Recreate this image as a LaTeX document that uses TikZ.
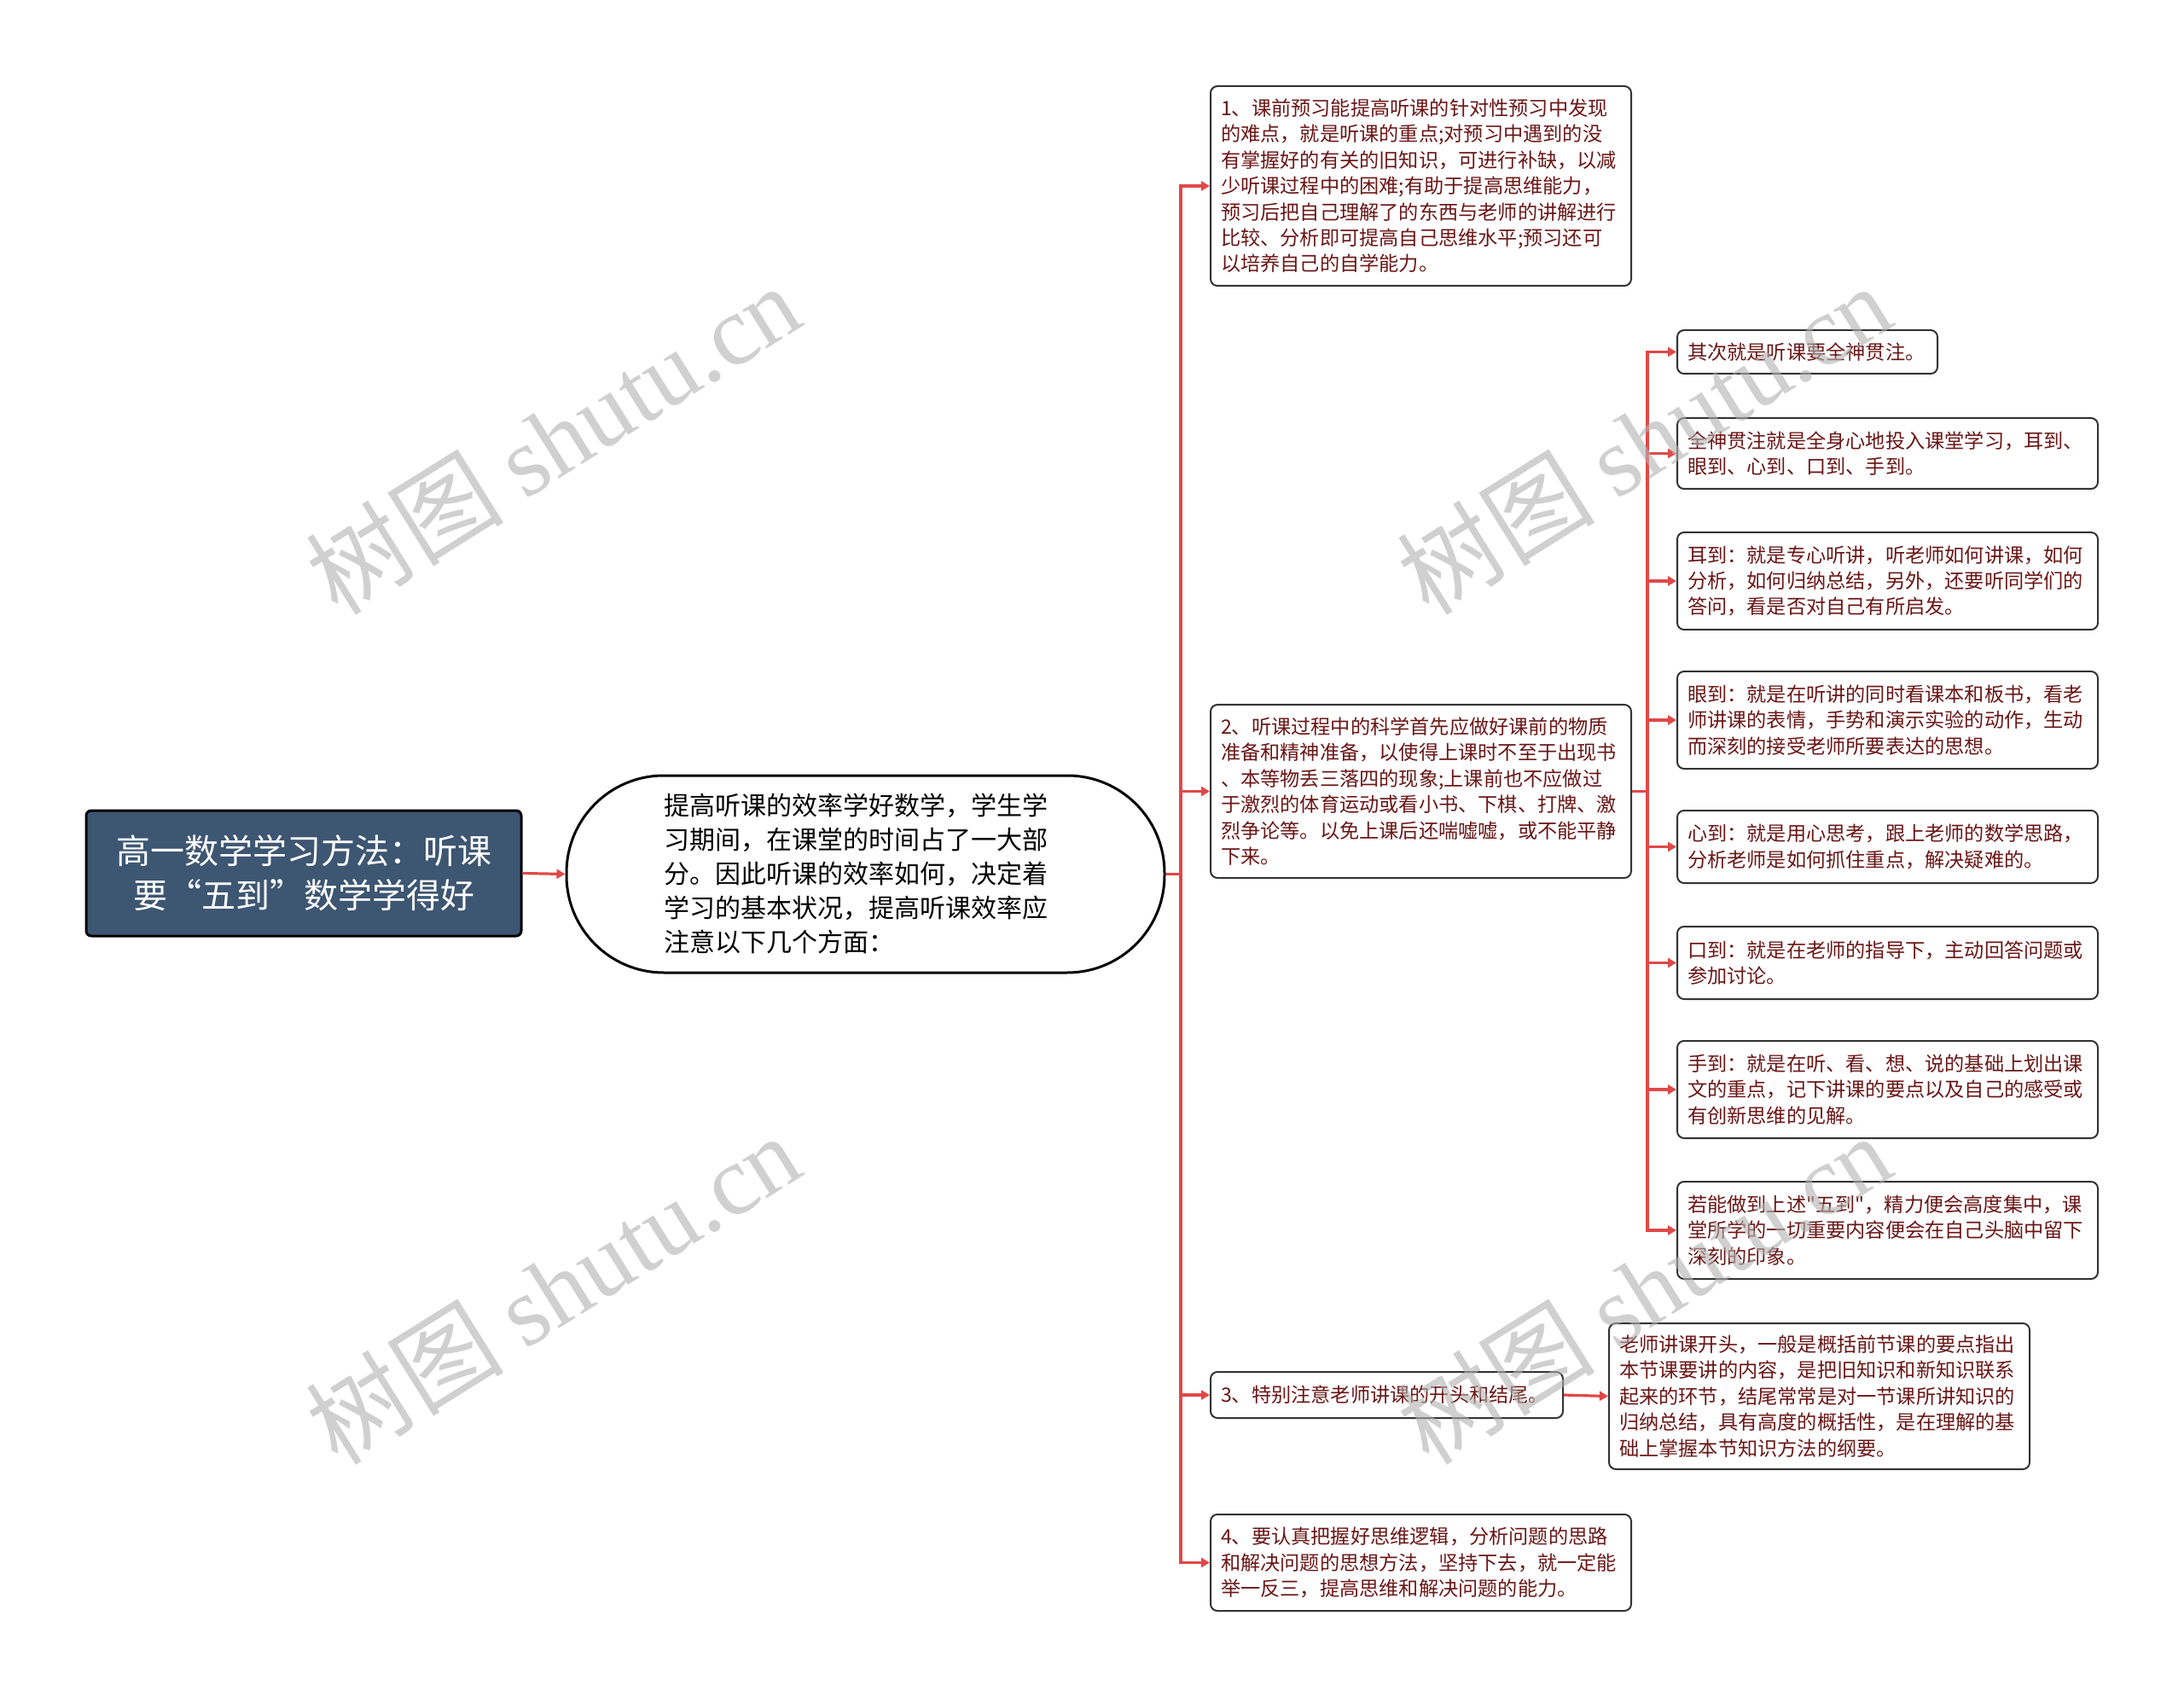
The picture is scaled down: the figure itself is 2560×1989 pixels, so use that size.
\documentclass[tikz,border=0pt]{standalone}
\usepackage{fontspec}
\setmainfont{Noto Sans CJK SC}[Ligatures=TeXOff]
\newfontfamily\wmlatin{Liberation Serif}
\usetikzlibrary{arrows.meta}

\definecolor{linkred}{HTML}{E04848}
\definecolor{rootfill}{HTML}{3D5672}
\definecolor{leaftext}{HTML}{6A1616}
\definecolor{boxline}{HTML}{333333}

\begin{document}
\begin{tikzpicture}[x=0.5pt, y=-0.5pt,
			rootbox/.style={draw=black, line width=1.5pt, fill=rootfill, rounded corners=3pt, text=white, font=\fontsize{20}{26}\selectfont, align=center, minimum width=255pt, minimum height=73.5pt, inner sep=0pt},
			ovalbox/.style={draw=black, line width=1.5pt, fill=white, rounded corners=57pt, font=\fontsize{15}{20}\selectfont, align=left, text width=236pt, minimum width=350.5pt, minimum height=115.5pt, inner sep=0pt},
			leafbox/.style={draw=boxline, line width=1pt, fill=white, rounded corners=4pt, text=leaftext, font=\fontsize{11.6}{15.2}\selectfont, align=left, text width=#1, inner xsep=6pt, inner ysep=0pt},
			leafbox/.default=234.5pt,
			link/.style={draw=linkred, line width=1.6pt},
			arrowlink/.style={link, -{Triangle[length=5pt,width=5.5pt]}},
			watermark/.style={rotate=32, text=gray!60, text opacity=0.6, font=\fontsize{58}{58}\selectfont, inner sep=0pt}
			]
			
			\fill[white] (0,0) rectangle (2560,1989);
			\useasboundingbox (0,0) rectangle (2560,1989);
			
			% Nodes
			\node[rootbox] (root) at (356,1023.5) {高一数学学习方法：听课\\要“五到”数学学得好};
			\node[ovalbox] (oval) at (1014.5,1024.5) {提高听课的效率学好数学，学生学\\习期间，在课堂的时间占了一大部\\分。因此听课的效率如何，决定着\\学习的基本状况，提高听课效率应\\注意以下几个方面：};
			
			\node[leafbox, minimum height=117pt] (b1) at (1665.5,218) {1、课前预习能提高听课的针对性预习中发现\\的难点，就是听课的重点;对预习中遇到的没\\有掌握好的有关的旧知识，可进行补缺，以减\\少听课过程中的困难;有助于提高思维能力，\\预习后把自己理解了的东西与老师的讲解进行\\比较、分析即可提高自己思维水平;预习还可\\以培养自己的自学能力。};
			\node[leafbox, minimum height=101.5pt] (b2) at (1665.5,927.5) {2、听课过程中的科学首先应做好课前的物质\\准备和精神准备，以使得上课时不至于出现书\\、本等物丢三落四的现象;上课前也不应做过\\于激烈的体育运动或看小书、下棋、打牌、激\\烈争论等。以免上课后还喘嘘嘘，或不能平静\\下来。};
			\node[leafbox=194.5pt, minimum height=27pt] (b3) at (1625.5,1635) {3、特别注意老师讲课的开头和结尾。};
			\node[leafbox, minimum height=85.5pt] (b3a) at (2132.5,1636.5) {老师讲课开头，一般是概括前节课的要点指出\\本节课要讲的内容，是把旧知识和新知识联系\\起来的环节，结尾常常是对一节课所讲知识的\\归纳总结，具有高度的概括性，是在理解的基\\础上掌握本节知识方法的纲要。};
			\node[leafbox, minimum height=56.5pt] (b4) at (1665.5,1831.5) {4、要认真把握好思维逻辑，分析问题的思路\\和解决问题的思想方法，坚持下去，就一定能\\举一反三，提高思维和解决问题的能力。};
			
			\node[leafbox=140.5pt, minimum height=25.5pt] (s1) at (2118.5,412.5) {其次就是听课要全神贯注。};
			\node[leafbox, minimum height=41.5pt] (s2) at (2212.5,531.5) {全神贯注就是全身心地投入课堂学习，耳到、\\眼到、心到、口到、手到。};
			\node[leafbox, minimum height=57pt] (s3) at (2212.5,681) {耳到：就是专心听讲，听老师如何讲课，如何\\分析，如何归纳总结，另外，还要听同学们的\\答问，看是否对自己有所启发。};
			\node[leafbox, minimum height=57pt] (s4) at (2212.5,844) {眼到：就是在听讲的同时看课本和板书，看老\\师讲课的表情，手势和演示实验的动作，生动\\而深刻的接受老师所要表达的思想。};
			\node[leafbox, minimum height=42.5pt] (s5) at (2212.5,992.5) {心到：就是用心思考，跟上老师的数学思路，\\分析老师是如何抓住重点，解决疑难的。};
			\node[leafbox, minimum height=42.5pt] (s6) at (2212.5,1128.5) {口到：就是在老师的指导下，主动回答问题或\\参加讨论。};
			\node[leafbox, minimum height=57pt] (s7) at (2212.5,1277) {手到：就是在听、看、想、说的基础上划出课\\文的重点，记下讲课的要点以及自己的感受或\\有创新思维的见解。};
			\node[leafbox, minimum height=57pt] (s8) at (2212.5,1442) {若能做到上述"五到"，精力便会高度集中，课\\堂所学的一切重要内容便会在自己头脑中留下\\深刻的印象。};
			
			\coordinate (trunk) at (1384,1024.5);
			\coordinate (subtrunk) at (1931,927.5);
			
			% Edges
			\draw[arrowlink] (root.east) -- (oval.west);
			\draw[link] (oval.east) -- (trunk);
			\draw[arrowlink] (trunk) |- (b1.west);
			\draw[arrowlink] (trunk) |- (b2.west);
			\draw[arrowlink] (trunk) |- (b3.west);
			\draw[arrowlink] (trunk) |- (b4.west);
			\draw[arrowlink] (b3.east) -- (b3a.west);
			
			\draw[link] (b2.east) -- (subtrunk);
			\draw[arrowlink] (subtrunk) |- (s1.west);
			\draw[arrowlink] (subtrunk) |- (s2.west);
			\draw[arrowlink] (subtrunk) |- (s3.west);
			\draw[arrowlink] (subtrunk) |- (s4.west);
			\draw[arrowlink] (subtrunk) |- (s5.west);
			\draw[arrowlink] (subtrunk) |- (s6.west);
			\draw[arrowlink] (subtrunk) |- (s7.west);
			\draw[arrowlink] (subtrunk) |- (s8.west);
			
			% Watermarks
			\node[watermark] (wm1) at (648,514) {树图 {\wmlatin shutu.cn}};
			\node[watermark] (wm2) at (1927,514) {树图 {\wmlatin shutu.cn}};
			\node[watermark] (wm3) at (648,1510) {树图 {\wmlatin shutu.cn}};
			\node[watermark] (wm4) at (1927,1510) {树图 {\wmlatin shutu.cn}};
			
		\end{tikzpicture}
\end{document}
